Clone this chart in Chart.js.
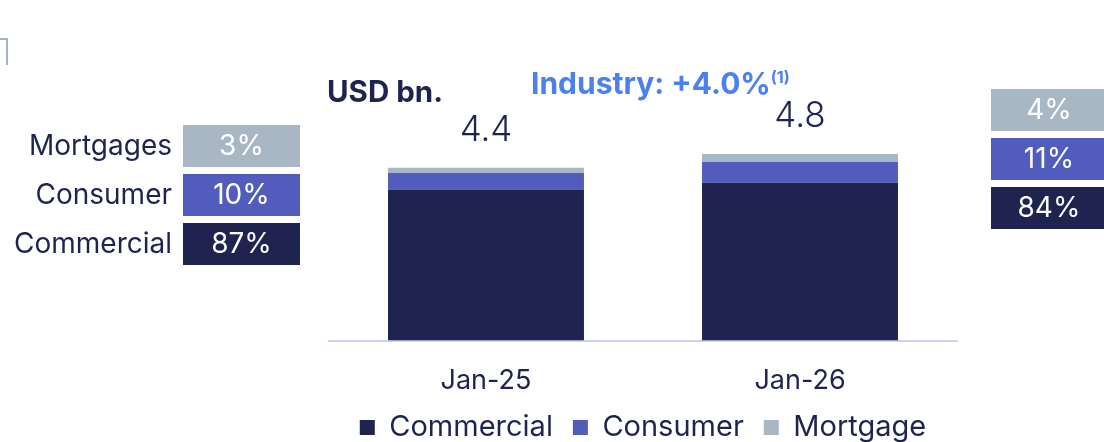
<!DOCTYPE html>
<html>
<head>
<meta charset="utf-8">
<script src="https://cdn.jsdelivr.net/npm/chart.js@4"></script>
<style>
  html, body { margin: 0; padding: 0; background: #fff; }
  #wrap { width: 1104px; height: 442px; position: relative; }
</style>
</head>
<body>
<div id="wrap"><canvas id="myChart"></canvas></div>
<script>
const categorias = ["Jan-25", "Jan-26"];
const commercial = [3.85, 4.02];
const consumer = [0.42, 0.53];
const mortgage = [0.13, 0.2];
const totalLabels = ["4.4", "4.8"];
const shareJan25 = [87, 10, 3]; // commercial, consumer, mortgages
const shareJan26 = [84, 11, 4];
const sideNames = ["Commercial", "Consumer", "Mortgages"];

const NAVY = "#1e2350";
const COLORES = ["#1e2350", "#515cbd", "#a9b7c5"];
const FONT = "Inter, 'DejaVu Sans', sans-serif";

/* Cajas laterales, totales y titulos */
const extras = {
  id: "extras",
  afterDraw(chart) {
    const ctx = chart.ctx;
    const x = chart.scales.x;
    const y = chart.scales.y;
    ctx.save();

    // totales sobre cada barra
    ctx.fillStyle = NAVY;
    ctx.textAlign = "center";
    ctx.textBaseline = "alphabetic";
    ctx.font = "300 35px " + FONT;
    categorias.forEach((c, i) => {
      const total = commercial[i] + consumer[i] + mortgage[i];
      ctx.fillText(totalLabels[i], x.getPixelForValue(i), y.getPixelForValue(total) - 27);
    });

    // titulo
    ctx.textAlign = "left";
    ctx.font = "bold 29.5px " + FONT;
    ctx.fillText("USD bn.", 327, 102);
    ctx.fillStyle = "#4a80f0";
    ctx.font = "bold 30px " + FONT;
    ctx.fillText("Industry: +4.0%", 531, 94);
    const w = ctx.measureText("Industry: +4.0%").width;
    ctx.font = "bold 16px " + FONT;
    ctx.fillText("(1)", 531 + w, 83);

    // cajas izquierda (Jan-25) y derecha (Jan-26)
    const filas = [
      { y: 223, i: 0 },
      { y: 174, i: 1 },
      { y: 125, i: 2 },
    ];
    filas.forEach((f) => {
      ctx.fillStyle = COLORES[f.i];
      ctx.fillRect(183, f.y, 117, 42);
      ctx.fillRect(991, f.y - 36, 113, 42);
      ctx.fillStyle = "#ffffff";
      ctx.textAlign = "center";
      ctx.textBaseline = "middle";
      ctx.font = "28px " + FONT;
      ctx.fillText(shareJan25[f.i] + "%", 241.5, f.y + 22);
      ctx.fillText(shareJan26[f.i] + "%", 1049, f.y - 36 + 22);
      ctx.fillStyle = NAVY;
      ctx.textAlign = "right";
      ctx.fillText(sideNames[f.i], 172, f.y + 22);
    });

    // esquina arriba a la izquierda
    ctx.strokeStyle = "#8d9cb4";
    ctx.lineWidth = 1.5;
    ctx.beginPath();
    ctx.moveTo(0, 39);
    ctx.lineTo(7, 39);
    ctx.lineTo(7, 65);
    ctx.stroke();
    ctx.restore();
  },
};

const ctx = document.getElementById("myChart").getContext("2d");
const myChart = new Chart(ctx, {
  type: "bar",
  data: {
    labels: categorias,
    datasets: [
      { label: "Commercial", data: commercial, backgroundColor: COLORES[0] },
      { label: "Consumer", data: consumer, backgroundColor: COLORES[1] },
      { label: "Mortgage", data: mortgage, backgroundColor: COLORES[2] },
    ],
  },
  options: {
    responsive: true,
    maintainAspectRatio: false,
    animation: false,
    layout: { padding: { left: 329, right: 147, top: 105, bottom: -10 } },
    datasets: { bar: { barPercentage: 0.78, categoryPercentage: 0.8 } },
    plugins: {
      tooltip: { enabled: false },
      legend: {
        position: "bottom",
        labels: {
          color: NAVY,
          boxWidth: 15,
          boxHeight: 15,
          padding: 20,
          font: { family: FONT, size: 29 },
        },
      },
    },
    scales: {
      x: {
        stacked: true,
        grid: { display: false },
        border: { color: "#cdd2ef", width: 2 },
        ticks: { color: NAVY, padding: 16, font: { family: FONT, size: 27 } },
        afterFit(scale) {
          scale.height = scale.height - 20;
        },
      },
      y: {
        stacked: true,
        display: false,
        min: 0,
        max: 6,
      },
    },
  },
  plugins: [extras],
});
</script>
</body>
</html>
